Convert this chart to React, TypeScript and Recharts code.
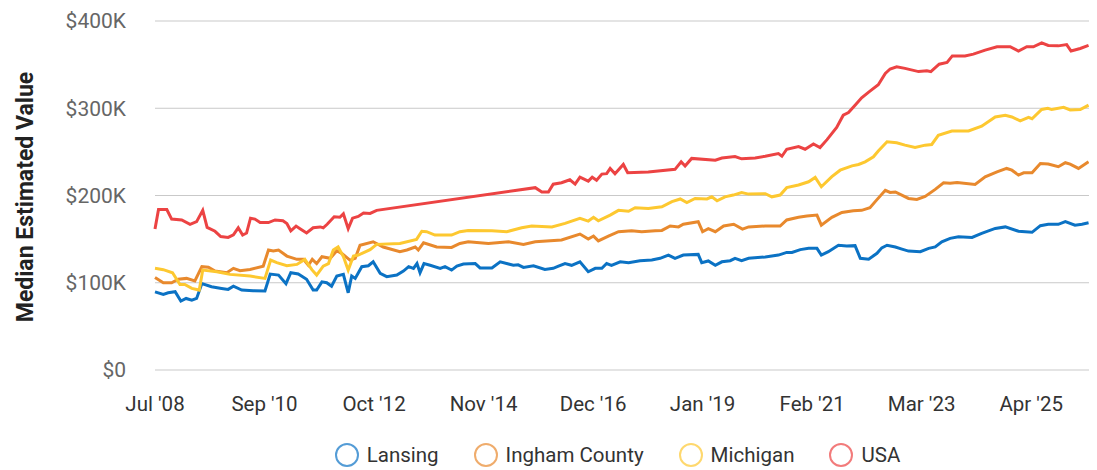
import { CartesianGrid, Label, Legend, Line, LineChart, XAxis, YAxis } from "recharts";

// x = months-ish index from Jul '08 (tick every 25 steps), y = median value in $K
const tickPositions = [0, 25, 50, 75, 100, 125, 150, 175, 200];
const tickLabels = ["Jul '08", "Sep '10", "Oct '12", "Nov '14", "Dec '16", "Jan '19", "Feb '21", "Mar '23", "Apr '25"];
const yTicks = [0, 100, 200, 300, 400];

const lansing: [number, number][] = [
  [0, 89.5], [1.9, 86.7], [3.0, 88.5], [4.6, 89.7], [5.9, 79], [7.1, 82], [8.4, 80], [9.5, 82], [10.7, 99], [12.9, 95.4],
  [15.2, 93.5], [16.7, 92.4], [17.9, 96], [19.8, 91.6], [22.4, 90.8], [25.1, 90.5], [26.3, 110], [28.2, 108.8], [29.9, 99], [31.0, 111.5],
  [32.7, 110], [34.6, 104], [36.1, 91.6], [36.9, 91.6], [38.1, 101], [39.2, 100], [40.3, 96], [41.5, 107.7], [43.0, 109.6], [44.1, 88.5],
  [44.9, 107.7], [45.7, 105], [47.2, 118.4], [48.7, 119.5], [49.8, 124], [51.4, 110.8], [52.9, 107], [55.2, 108.8], [56.7, 113.4], [57.9, 118.4],
  [59.0, 116.5], [59.8, 122], [60.5, 111.5], [61.4, 122], [62.8, 120], [65.1, 116.5], [66.2, 118.4], [67.7, 114.5], [68.9, 119], [70.4, 121.4],
  [73.1, 122], [74.2, 117], [76.9, 117], [78.8, 124], [81.8, 120], [82.9, 120.5], [84.1, 117.6], [86.4, 119.5], [89.0, 115.3], [90.9, 116.5],
  [92.1, 119], [93.6, 122], [95.1, 120], [97.0, 124], [98.9, 112.6], [100.5, 116.5], [102.0, 116.5], [103.1, 122], [104.2, 120], [106.2, 124],
  [108.1, 123], [110.7, 125.3], [113.4, 126], [115.3, 128], [117.2, 131.7], [118.7, 128], [120.6, 131.7], [124.0, 132.5], [124.8, 123], [126.3, 125],
  [127.9, 120], [129.4, 124], [131.3, 125.3], [132.4, 128], [133.9, 125.3], [135.5, 128], [139.3, 129.5], [142.3, 131.7], [144.2, 134.8], [145.4, 134.7],
  [147.3, 138], [149.2, 139.4], [151.1, 139.4], [152.1, 131.7], [153.7, 135.6], [156.0, 143], [157.9, 142], [159.8, 142.5], [161.0, 128], [162.9, 127],
  [164.8, 133.7], [165.9, 140], [167.1, 143], [169.0, 141], [170.5, 138.6], [172.0, 136.3], [174.7, 135.6], [176.6, 139.4], [178.1, 141], [179.6, 147],
  [181.5, 150.9], [183.4, 152.7], [186.5, 152], [188.7, 156.6], [191.8, 162.3], [194.1, 164], [197.1, 159], [200.2, 157.8], [202.1, 165.4], [203.9, 167],
  [206.2, 167], [207.8, 170], [210.0, 166], [211.6, 167], [213.1, 168.7],
];

const ingham: [number, number][] = [
  [0, 106], [1.9, 100], [3.8, 100], [5.3, 104], [7.2, 105], [9.1, 102], [10.7, 118.4], [12.2, 117.7], [13.7, 113.4], [16.4, 111.5],
  [17.9, 116.5], [19.4, 113.8], [21.7, 115.3], [24.7, 119], [25.9, 137.5], [27.0, 136.3], [28.2, 137.5], [30.1, 130.6], [32.4, 126.8], [33.9, 126.8],
  [35.0, 120], [35.9, 126.8], [36.9, 122], [38.1, 129.8], [40.0, 128], [41.5, 136.7], [42.6, 133.7], [44.5, 126], [45.7, 128], [46.8, 143],
  [49.8, 147], [52.1, 141], [55.9, 135.6], [57.5, 137.5], [59.4, 141], [60.1, 137.5], [61.3, 145.8], [64.3, 141], [67.7, 140.5], [69.6, 145],
  [71.5, 147], [76.1, 145], [80.7, 147], [84.1, 144], [86.8, 147], [92.8, 149], [97.0, 155.8], [98.9, 150], [100.1, 153.5], [101.2, 148],
  [103.5, 153.5], [105.8, 158.5], [108.8, 159.6], [111.1, 158.5], [114.2, 159.6], [115.7, 160], [117.6, 165], [119.5, 164], [120.6, 167], [124.0, 170],
  [125.0, 158.5], [126.3, 162], [127.9, 158.5], [129.8, 165], [132.1, 167], [134.1, 161.5], [135.5, 164], [139.3, 165], [142.7, 165], [144.2, 172],
  [146.9, 175], [148.8, 176.4], [151.1, 177.5], [152.1, 166], [154.5, 175], [156.8, 180.6], [159.4, 182.5], [161.3, 183], [163.2, 186], [164.7, 194.7],
  [166.7, 206], [167.8, 203.5], [169.0, 204], [172.0, 196.6], [173.9, 195.5], [175.8, 199], [178.1, 207], [180.0, 214.6], [181.5, 214], [183.1, 215],
  [187.2, 212.7], [189.5, 221.5], [192.2, 227], [194.4, 231], [195.6, 229], [197.1, 223.4], [198.3, 226], [200.2, 226], [202.1, 236.7], [203.9, 236],
  [206.2, 233], [207.8, 237.6], [208.9, 236], [210.8, 231], [213.1, 238.6],
];

const michigan: [number, number][] = [
  [0, 116.5], [1.9, 115], [4.0, 111.5], [5.7, 98], [6.8, 98], [8.4, 93.5], [10.1, 91.6], [10.9, 114.5], [14.1, 112.6], [17.1, 109.6],
  [21.7, 107.7], [25.1, 105], [26.4, 126], [27.8, 123], [30.1, 119.5], [32.4, 121], [34.2, 126.8], [35.8, 115], [36.9, 108.8], [38.4, 119],
  [39.6, 122], [40.7, 137.5], [41.8, 141], [43.0, 130], [44.1, 114.5], [45.3, 130.6], [46.4, 131.7], [49.1, 138], [50.6, 144], [55.9, 145],
  [59.7, 149.7], [60.9, 159], [62.0, 158.5], [63.9, 154.6], [67.7, 154.6], [69.6, 158.5], [71.5, 160], [76.9, 159.6], [80.3, 158.5], [83.7, 163],
  [86.0, 165], [90.6, 164], [93.6, 168], [97.0, 173.8], [98.9, 170.7], [100.1, 175], [101.2, 171], [103.9, 177.5], [105.8, 183], [108.1, 182],
  [109.6, 186], [112.6, 185], [115.7, 187], [118.0, 193], [119.9, 196], [121.4, 192], [123.3, 196.6], [126.0, 196], [127.1, 198.5], [128.3, 194],
  [130.1, 198.5], [132.0, 200.5], [133.9, 203.5], [135.5, 201.6], [139.3, 202], [140.8, 198.5], [142.7, 200.5], [144.2, 209], [146.9, 212], [149.2, 215.7],
  [150.7, 220.7], [152.1, 210], [154.5, 221.6], [156.4, 229], [159.1, 234], [160.6, 235.6], [162.1, 238.6], [164.0, 244.4], [165.1, 251], [167.1, 261.6],
  [169.3, 260.5], [171.2, 257.7], [173.5, 255], [175.8, 257.7], [177.3, 258.5], [178.8, 269], [181.9, 273.8], [185.7, 274], [188.7, 279.5], [191.8, 290],
  [194.1, 292], [195.6, 290], [197.5, 285.6], [199.4, 289.5], [200.2, 288], [202.4, 298.6], [203.8, 300], [204.7, 298.5], [207.4, 301], [208.9, 298],
  [211.2, 298.6], [213.1, 303.5],
];

const usa: [number, number][] = [
  [0, 161.5], [0.8, 184], [2.7, 184], [3.8, 173], [6.1, 172], [8.0, 167], [9.5, 170], [10.9, 183], [11.9, 163.5], [13.7, 159],
  [15.0, 153], [16.7, 152], [17.9, 155], [19.0, 163], [20.0, 154.6], [20.9, 157], [21.8, 174], [22.8, 173], [24.0, 169], [25.9, 169],
  [27.4, 172], [29.2, 171], [30.1, 168], [31.0, 159.6], [32.2, 165], [33.1, 162], [34.6, 157], [36.1, 163], [37.7, 164], [38.4, 163],
  [39.3, 167], [40.9, 175.6], [42.2, 175], [43.0, 179], [44.1, 162], [45.1, 174], [46.4, 176], [47.6, 180], [49.1, 179.5], [50.6, 183],
  [86.8, 209], [88.3, 204], [89.8, 204], [90.9, 213], [92.8, 214.6], [94.7, 218], [95.9, 213], [97.0, 221], [98.9, 216.5], [99.8, 221],
  [100.8, 217.6], [102.0, 224.5], [103.1, 225], [103.9, 231], [105.0, 225], [106.9, 235.6], [107.9, 226], [112.6, 227], [118.7, 230], [120.1, 238.6],
  [121.0, 233.7], [122.5, 242.5], [127.9, 240.5], [129.4, 243], [132.4, 244.6], [133.9, 242], [137.0, 243], [139.3, 245], [142.3, 248], [143.1, 245],
  [144.2, 253], [146.9, 256], [148.4, 253], [150.3, 259], [151.8, 255], [153.4, 264], [155.6, 278], [157.1, 292], [158.3, 295], [159.8, 303.5],
  [161.3, 312], [163.2, 319.6], [165.1, 327], [166.7, 340], [167.8, 345], [169.3, 347.6], [171.2, 345.7], [174.3, 342], [176.2, 343], [177.1, 342],
  [179.0, 350.5], [180.8, 352.5], [182.0, 360], [184.9, 360], [186.8, 362], [189.5, 366.6], [192.2, 370.5], [195.2, 370.5], [197.1, 365.6], [199.0, 370.5],
  [200.5, 370.5], [202.4, 375], [203.9, 372], [206.2, 371.5], [208.1, 373], [209.1, 365.6], [211.2, 368.5], [213.1, 372],
];

const series = [
  { name: "Lansing", color: "#0b72c4", points: lansing },
  { name: "Ingham County", color: "#e8892d", points: ingham },
  { name: "Michigan", color: "#fdc830", points: michigan },
  { name: "USA", color: "#ec4343", points: usa },
];

const font = "Roboto, 'Noto Sans', sans-serif";

function ChartLegend() {
  return (
    <div
      style={{
        display: "flex",
        justifyContent: "center",
        alignItems: "center",
        height: 50,
        paddingTop: 20,
        paddingLeft: 137,
        boxSizing: "border-box",
        fontFamily: font,
        fontSize: 20.5,
        color: "#333",
      }}
    >
      {series.map((s) => (
        <div key={s.name} style={{ display: "flex", alignItems: "center", margin: "0 17px" }}>
          <svg width={26} height={26} style={{ marginRight: 7 }}>
            <circle cx={13} cy={13} r={11} fill="none" stroke={s.color} strokeOpacity={0.7} strokeWidth={2} />
          </svg>
          <span>{s.name}</span>
        </div>
      ))}
    </div>
  );
}

export default function App() {
  return (
    <div style={{ fontFamily: font }}>
      <LineChart width={1081} height={462} margin={{ top: 13, right: 0, bottom: 0, left: 0 }}>
        <CartesianGrid vertical={false} stroke="#c9c9c9" />
        <XAxis
          dataKey="t"
          type="number"
          domain={[0, 213.2]}
          ticks={tickPositions}
          interval={0}
          tickFormatter={(v: number) => tickLabels[tickPositions.indexOf(v)]}
          axisLine={false}
          tickLine={false}
          tick={{ fontSize: 20.5, fill: "#333", fontFamily: font }}
          tickMargin={20}
          height={50}
          allowDuplicatedCategory={false}
        />
        <YAxis
          type="number"
          domain={[0, 400]}
          ticks={yTicks}
          tickFormatter={(v: number) => (v === 0 ? "$0" : `$${v}K`)}
          axisLine={false}
          tickLine={false}
          tick={{ fontSize: 21, fill: "#666", fontFamily: font }}
          tickMargin={23}
          width={147}
        >
          <Label
            content={() => (
              <text
                x={17}
                y={189}
                transform="rotate(-90, 17, 189)"
                textAnchor="middle"
                dominantBaseline="central"
                fontSize={23}
                fontWeight={700}
                fill="#222"
                fontFamily={font}
              >
                Median Estimated Value
              </text>
            )}
          />
        </YAxis>
        <Legend verticalAlign="bottom" height={50} content={() => <ChartLegend />} />
        {series.map((s) => (
          <Line
            key={s.name}
            name={s.name}
            data={s.points.map(([t, v]) => ({ t, v }))}
            dataKey="v"
            type="linear"
            stroke={s.color}
            strokeWidth={3}
            dot={false}
            isAnimationActive={false}
          />
        ))}
      </LineChart>
    </div>
  );
}
